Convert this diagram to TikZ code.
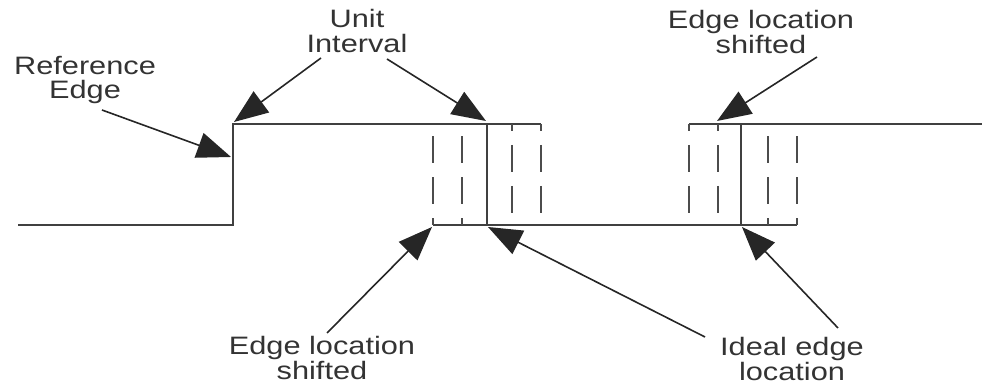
\documentclass[tikz,border=0pt]{standalone}
\usepackage{fontspec}
\setmainfont{Liberation Sans}
\newfontfamily\lblfont[FakeStretch=1.22]{Liberation Sans}
\usetikzlibrary{arrows.meta}
\begin{document}
\begin{tikzpicture}[x=0.5pt,y=-0.5pt,
  wave/.style={draw=black!75,line width=1.1pt},
  dashup/.style={draw=black!70,line width=1.1pt,dash pattern=on 13.5pt off 7pt,dash phase=10pt},
  callout/.style={draw=black!85,line width=0.8pt,-{Triangle[length=17pt,width=13pt]}},
  lbl/.style={align=center,inner sep=0pt,text=black!80,font=\lblfont\fontsize{12.6}{12.3}\selectfont}]
\useasboundingbox (0,0) rectangle (982,384);
% waveform corners
\coordinate (l0) at (18,225);
\coordinate (r1b) at (233,225);
\coordinate (r1t) at (233,124);
\coordinate (t1e) at (541,124);
\coordinate (f1t) at (487,124);
\coordinate (f1b) at (487,225);
\coordinate (b1s) at (433,225);
\coordinate (b1e) at (797,225);
\coordinate (r2b) at (741,225);
\coordinate (r2t) at (741,124);
\coordinate (t2s) at (689,124);
\coordinate (t2e) at (982,124);
% solid lines
\draw[wave] (l0) -- (r1b) -- (r1t) -- (t1e);
\draw[wave] (f1t) -- (f1b);
\draw[wave] (b1s) -- (b1e);
\draw[wave] (r2b) -- (r2t);
\draw[wave] (t2s) -- (t2e);
% dashed shifted edges (from bottom up / top down)
\foreach \x in {433,462} \draw[dashup] (\x,225) -- (\x,124);
\foreach \x in {512,541} \draw[dashup] (\x,124) -- (\x,225);
\foreach \x in {689,718} \draw[dashup] (\x,124) -- (\x,225);
\foreach \x in {768,797} \draw[dashup] (\x,225) -- (\x,124);
% labels
\node[lbl] (refedge) at (85,80) {Reference\\Edge};
\node[lbl] (unit) at (357,31) {Unit\\Interval};
\node[lbl] (shiftT) at (761,32) {Edge location\\shifted};
\node[lbl] (shiftB) at (322,358) {Edge location\\shifted};
\node[lbl] (ideal) at (792,359) {Ideal edge\\location};
% arrow start points
\coordinate (aRef) at (102,110);
\coordinate (aU1) at (321,58);
\coordinate (aU2) at (387,59);
\coordinate (aST) at (817,57);
\coordinate (aSB) at (327,333);
\coordinate (aI1) at (705,337);
\coordinate (aI2) at (838,328);
% arrow tips
\coordinate (tRef) at (231,157);
\coordinate (tU1) at (234,122);
\coordinate (tU2) at (486,121);
\coordinate (tST) at (717,121);
\coordinate (tSB) at (432,227);
\coordinate (tI1) at (488,227);
\coordinate (tI2) at (742,227);
\draw[callout] (aRef) -- (tRef);
\draw[callout] (aU1) -- (tU1);
\draw[callout] (aU2) -- (tU2);
\draw[callout] (aST) -- (tST);
\draw[callout] (aSB) -- (tSB);
\draw[callout] (aI1) -- (tI1);
\draw[callout] (aI2) -- (tI2);
\end{tikzpicture}
\end{document}
